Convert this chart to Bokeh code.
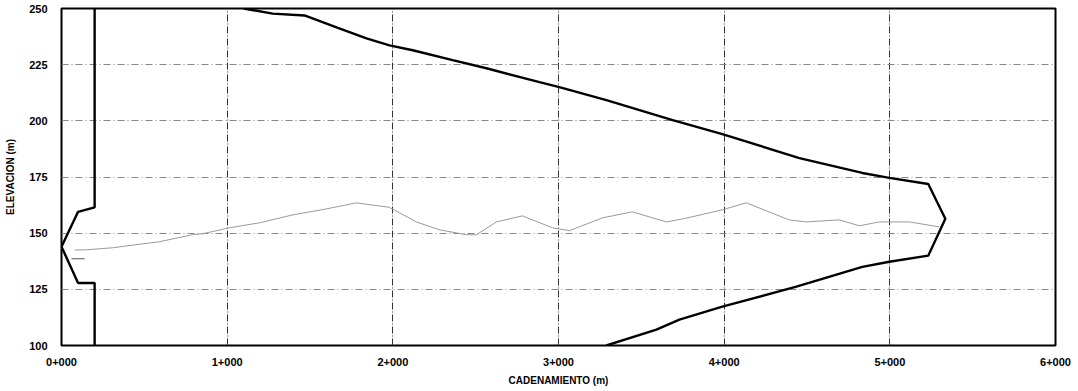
from bokeh.plotting import figure
from bokeh.models import Range1d, FixedTicker
from bokeh.embed import file_html
from bokeh.resources import INLINE

# ---- data ----
x_ticks = [0, 1000, 2000, 3000, 4000, 5000, 6000]
x_tick_labels = ["0+000", "1+000", "2+000", "3+000", "4+000", "5+000", "6+000"]
y_ticks = [100, 125, 150, 175, 200, 225, 250]

# envelope (thick black line): upper branch, tip, lower branch
env_chain = [1100, 1275, 1467, 1660, 1841, 1980, 2120, 2361, 2565, 2885, 3005,
             3289, 3689, 3989, 4454, 4834, 4997, 5232, 5335, 5232, 4997, 4834,
             4436, 3989, 3730, 3591, 3289]
env_elev = [250, 247.7, 246.9, 241.6, 236.7, 233.6, 231.4, 227.0, 223.4, 217.2, 215.0,
            209.2, 200.3, 194.1, 183.4, 176.8, 174.6, 171.9, 156.4, 140.0, 137.3, 135.0,
            126.2, 117.3, 111.5, 107.1, 100]

# left structure (thick black line)
left_chain = [200, 200, 100, 0, 100, 200, 200]
left_elev = [250, 161.5, 159.5, 144.0, 127.8, 127.8, 100]

# terrain profile (thin grey line)
terr_chain = [80, 151, 308, 591, 791, 850, 1014, 1195, 1394, 1599, 1780, 1979, 2142,
              2281, 2444, 2505, 2625, 2782, 2963, 3066, 3265, 3446, 3651, 3760, 3989,
              4134, 4393, 4496, 4695, 4816, 4937, 5118, 5299]
terr_elev = [142.5, 142.6, 143.5, 146.2, 149.3, 149.7, 152.4, 154.6, 158.1, 160.8, 163.5,
             161.5, 155.0, 151.5, 149.3, 149.3, 155.0, 157.7, 152.4, 151.1, 156.8, 159.5,
             155.0, 156.5, 160.4, 163.5, 155.9, 155.0, 155.9, 153.3, 155.0, 155.0, 152.8]

# small mark near the origin
mark_chain = [60, 140]
mark_elev = [138.6, 138.6]

FONT = "Liberation Sans"

p = figure(width=1076, height=388, output_backend="svg", toolbar_location=None,
           x_range=Range1d(0, 6000), y_range=Range1d(100, 250),
           min_border_left=61, min_border_right=21, min_border_top=8, min_border_bottom=42)

p.outline_line_color = "black"
p.outline_line_width = 2

# grid
p.xgrid.ticker = FixedTicker(ticks=x_ticks)
p.ygrid.ticker = FixedTicker(ticks=y_ticks)
p.xgrid.grid_line_color = "#333333"
p.xgrid.grid_line_dash = "7 2 1 2"
p.xgrid.grid_line_width = 1
p.ygrid.grid_line_color = "#888888"
p.ygrid.grid_line_dash = "7 3 1 3"
p.ygrid.grid_line_width = 1

# axes
p.xaxis.ticker = FixedTicker(ticks=x_ticks)
p.xaxis.major_label_overrides = {t: l for t, l in zip(x_ticks, x_tick_labels)}
p.yaxis.ticker = FixedTicker(ticks=y_ticks)
for ax in (p.xaxis[0], p.yaxis[0]):
    ax.axis_line_color = None
    ax.major_tick_line_color = None
    ax.minor_tick_line_color = None
    ax.major_label_text_font = FONT
    ax.major_label_text_font_style = "bold"
    ax.major_label_text_font_size = "11px"
    ax.major_label_text_color = "black"
    ax.axis_label_text_font = FONT
    ax.axis_label_text_font_style = "bold"
    ax.axis_label_text_font_size = "10px"
    ax.axis_label_text_color = "black"
p.xaxis.axis_label = "CADENAMIENTO (m)"
p.yaxis.axis_label = "ELEVACION (m)"
p.xaxis.major_label_standoff = 6
p.xaxis.axis_label_standoff = 6
p.yaxis.major_label_standoff = 8
p.yaxis.axis_label_standoff = 10

# lines
p.line(terr_chain, terr_elev, line_color="#9a9a9a", line_width=1)
p.line(mark_chain, mark_elev, line_color="#555555", line_width=1)
p.line(left_chain, left_elev, line_color="black", line_width=2.4)
p.line(env_chain, env_elev, line_color="black", line_width=2.4)

open("out.html", "w").write(file_html(p, INLINE))
